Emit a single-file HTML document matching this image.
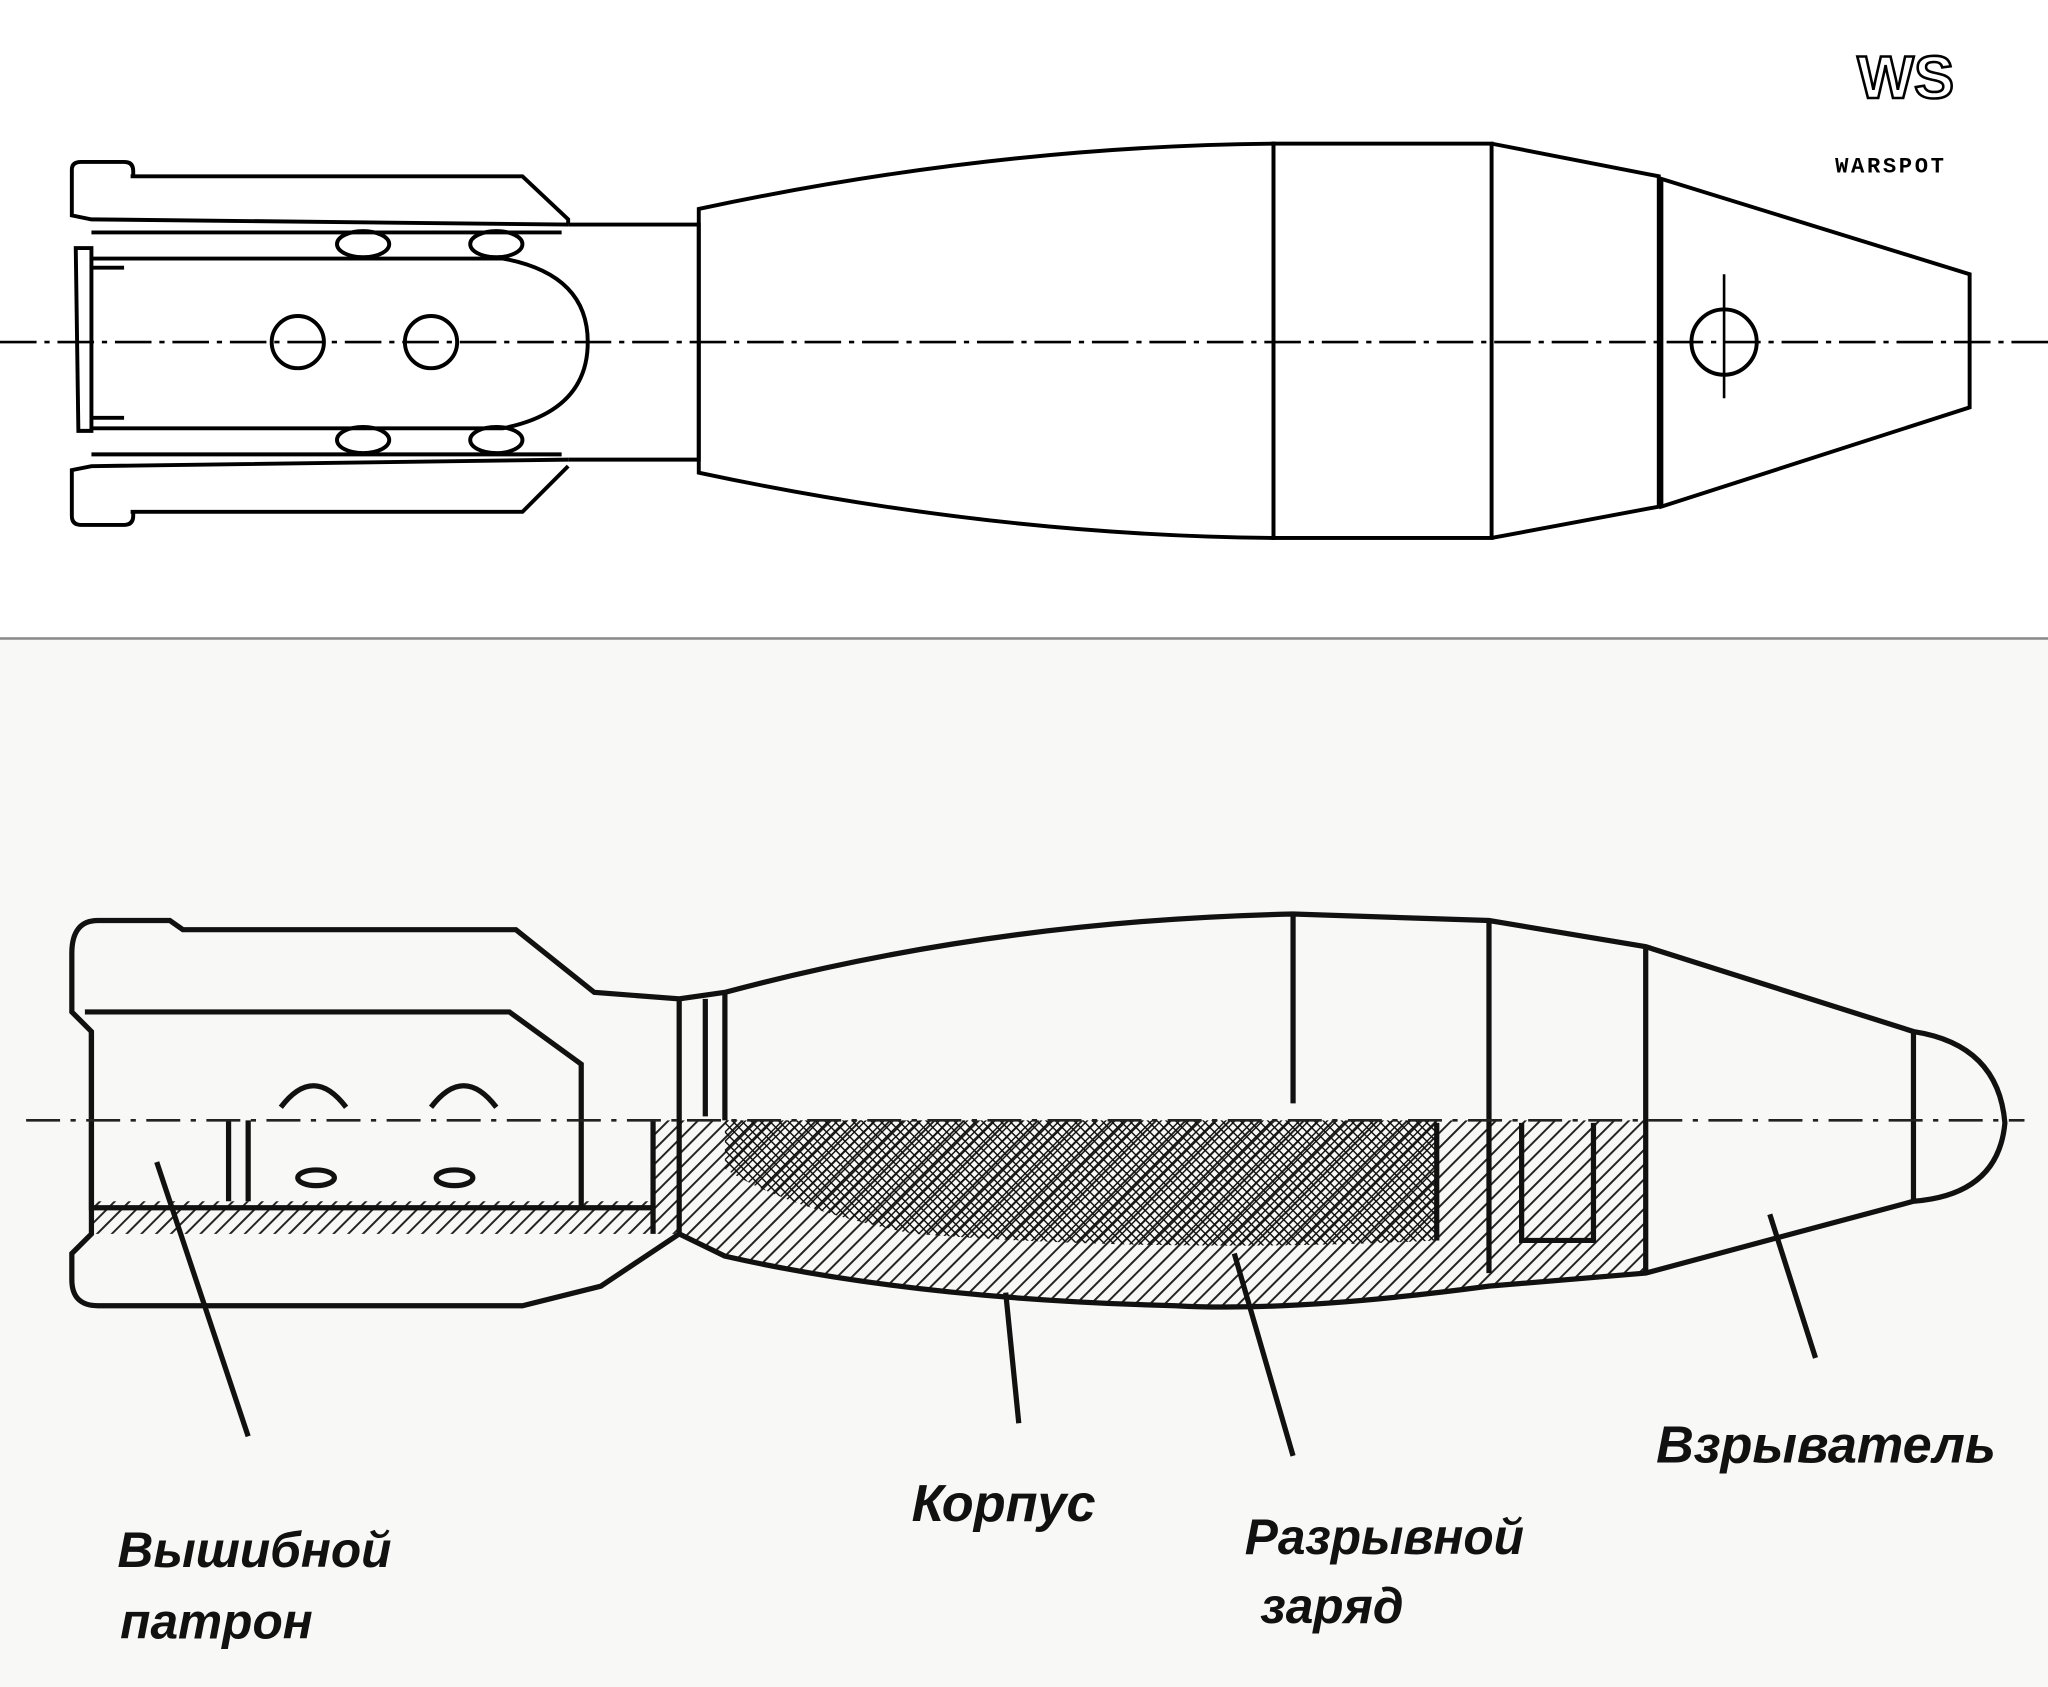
<!DOCTYPE html>
<html><head><meta charset="utf-8"><style>
html,body{margin:0;padding:0;background:#fff;}
svg{display:block;}
</style></head><body>
<svg width="2048" height="1687" viewBox="0 0 1568 1292" preserveAspectRatio="none" xmlns="http://www.w3.org/2000/svg">
<defs>
<pattern id="h1" width="8" height="8" patternUnits="userSpaceOnUse" patternTransform="rotate(45)"><line x1="0" y1="0" x2="0" y2="8" stroke="#222" stroke-width="3"/></pattern>
<pattern id="h2" width="5" height="5" patternUnits="userSpaceOnUse" patternTransform="rotate(45)"><line x1="0" y1="0" x2="0" y2="5" stroke="#111" stroke-width="2.2"/><line x1="0" y1="0" x2="5" y2="0" stroke="#111" stroke-width="2.2"/></pattern>
</defs>
<rect width="1568" height="1292" fill="#fff"/>
<rect y="490" width="1568" height="802" fill="#f8f8f6"/>
<line x1="0" y1="489" x2="1568" y2="489" stroke="#888" stroke-width="2"/>
<g fill="none" stroke="#000" stroke-width="3">
<path d="M100,135 L400,135 L435,168 L435,172"/>
<path d="M100,392 L400,392 L435,357"/>
<path d="M55,130 Q55,124 62,124 L95,124 Q102,124 102,131 L102,135 M55,130 L55,165 L70,168 L435,172 M55,395 Q55,402 62,402 L95,402 Q102,402 102,395 L102,392 M55,395 L55,360 L70,357 L435,352"/>
<path d="M58,190 L60,330 L70,330 L70,190 Z"/>
<path d="M70,178 L430,178 M70,198 L385,198 Q450,210 450,262 Q450,315 385,328 L70,328 M70,348 L430,348"/>
<path d="M70,205 L95,205 M70,320 L95,320"/>
<path d="M435,172 L535,172 L535,352 L435,352"/>
<path d="M535,160 Q760,112 975,110 L975,412 Q760,410 535,362 Z"/>
<rect x="975" y="110" width="167" height="302"/>
<path d="M1142,110 L1270,135 L1270,388 L1142,412"/>
<path d="M1272,137 L1508,210 L1508,312 L1272,388 Z"/>
<circle cx="228" cy="262" r="20"/><circle cx="330" cy="262" r="20"/>
<ellipse cx="278" cy="187" rx="20" ry="10"/><ellipse cx="380" cy="187" rx="20" ry="10"/>
<ellipse cx="278" cy="337" rx="20" ry="10"/><ellipse cx="380" cy="337" rx="20" ry="10"/>
<circle cx="1320" cy="262" r="25"/>
<line x1="1320" y1="210" x2="1320" y2="305" stroke-width="2"/>
</g>
<line x1="0" y1="262" x2="1568" y2="262" stroke="#000" stroke-width="2" stroke-dasharray="28,6,4,6"/>
<text x="1422" y="75" font-family="Liberation Sans, sans-serif" font-size="46" font-weight="bold" fill="none" stroke="#000" stroke-width="2">WS</text>
<text x="1405" y="132" font-family="Liberation Mono, monospace" font-size="17" font-weight="bold" fill="#000" letter-spacing="2">WARSPOT</text>
<path d="M500,858 L1260,858 L1260,975 L1140,985 Q990,1005 900,1000 Q700,995 555,962 L520,945 L500,945 Z" fill="url(#h1)"/>
<path d="M555,858 L1100,858 L1100,950 Q900,960 700,945 Q600,925 555,895 Z" fill="url(#h2)"/>
<rect x="70" y="920" width="430" height="25" fill="url(#h1)"/>
<g fill="none" stroke="#111" stroke-width="4">
<path d="M55,730 Q55,705 75,705 L130,705 L140,712 L395,712 L455,760 L520,765 L555,760 Q760,705 990,700 L1140,705 L1260,725 L1465,790 Q1530,800 1535,860 Q1530,915 1465,920 L1260,975 L1140,985 Q990,1005 900,1000 Q700,995 555,962 L520,945 L460,985 L400,1000 L75,1000 Q55,1000 55,980 L55,960 L70,945 L70,790 L55,775 Z"/>
<path d="M65,775 L390,775 L445,815 L445,925 M70,790 L70,925 L500,925"/>
<path d="M520,765 L520,945 M540,765 L540,855 M555,760 L555,858 M990,700 L990,845 M1140,705 L1140,975 M1260,725 L1260,975 M1465,790 L1465,920"/>
<path d="M175,858 L175,920 M190,858 L190,920 M1100,860 L1100,950 M1165,860 L1165,950 L1220,950 L1220,860 M500,858 L500,945"/>
<path d="M215,848 Q240,815 265,848 M330,848 Q355,815 380,848"/>
<ellipse cx="242" cy="902" rx="14" ry="6"/><ellipse cx="348" cy="902" rx="14" ry="6"/>
<path d="M120,890 L190,1100 M770,990 L780,1090 M945,960 L990,1115 M1355,930 L1390,1040"/>
</g>
<line x1="20" y1="858" x2="1550" y2="858" stroke="#222" stroke-width="2" stroke-dasharray="26,8,4,8"/>
<g font-family="Liberation Sans, sans-serif" font-style="italic" font-weight="bold" fill="#111">
<text x="90" y="1200" font-size="38">Вышибной</text>
<text x="92" y="1255" font-size="38">патрон</text>
<text x="698" y="1165" font-size="40">Корпус</text>
<text x="953" y="1190" font-size="38">Разрывной</text>
<text x="965" y="1243" font-size="38">заряд</text>
<text x="1268" y="1120" font-size="40">Взрыватель</text>
</g>
</svg>
</body></html>
